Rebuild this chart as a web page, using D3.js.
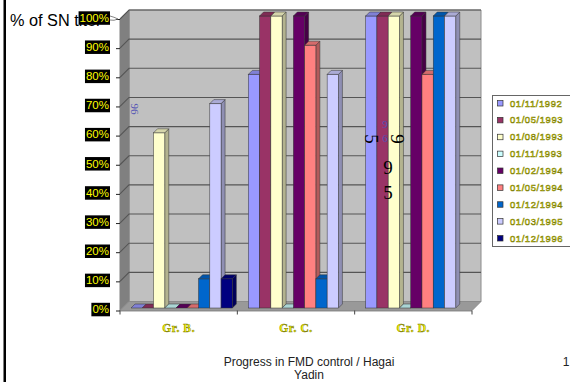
<!DOCTYPE html>
<html>
<head>
<meta charset="utf-8">
<script src="https://cdn.jsdelivr.net/npm/d3@7"></script>
<style>
  html, body { margin: 0; padding: 0; background: #fff; overflow: hidden; }
  svg { display: block; }
  text { font-family: "Liberation Sans", Arial, sans-serif; }
</style>
</head>
<body>
<div id="chart"></div>
<script>
var groups = ['Gr. B.', 'Gr. C.', 'Gr. D.'];
var dates = ['01/11/1992', '01/05/1993', '01/08/1993', '01/11/1993', '01/02/1994',
             '01/05/1994', '01/12/1994', '01/03/1995', '01/12/1996'];
var colors = ['#9999FF', '#993366', '#FFFFCC', '#CCFFFF', '#660066',
              '#FF8080', '#0066CC', '#CCCCFF', '#000080'];

// one list per survey date, in the order of groups. null = no bar
var s19921101 = [0, 80, 100];
var s19930501 = [0, 100, 100];
var s19930801 = [60, 100, 100];
var s19931101 = [0, 0, 0];
var s19940201 = [0, 100, 100];
var s19940501 = [0, 90, 80];
var s19941201 = [10, 10, 100];
var s19950301 = [70, 80, 100];
var s19961201 = [10, null, null];
var allSeries = [s19921101, s19930501, s19930801, s19931101, s19940201,
                 s19940501, s19941201, s19950301, s19961201];

var ticks = [0, 10, 20, 30, 40, 50, 60, 70, 80, 90, 100];

var svg = d3.select('#chart').append('svg').attr('width', 570).attr('height', 382);

// SCALES. front of the box, back wall and bars sit on different planes
var depth = 9, barDepth = 4;
var yFront = d3.scaleLinear().domain([0, 100]).range([310.5, 19]);
var yBar = d3.scaleLinear().domain([0, 100]).range([308, 16]);
var x0 = d3.scaleBand().domain(groups).range([120, 472]);
var x1 = d3.scaleBand().domain(d3.range(dates.length)).range([8, x0.bandwidth() - 8]);

function poly(pts) { return 'M' + pts.map(function(p) { return p.join(','); }).join('L') + 'Z'; }

// left border of the slide
svg.append('rect').attr('x', 3.5).attr('y', 0).attr('width', 2.5).attr('height', 382).attr('fill', '#000');

svg.append('text').attr('x', 10).attr('y', 26).attr('font-size', 16.3).attr('fill', '#000').text('% of SN titer');

// WALLS
var xL = 120, xR = 472;
svg.append('path')
  .attr('d', poly([[xL + depth, yFront(100) - depth], [xR + depth, yFront(100) - depth],
                   [xR + depth, yFront(0) - depth], [xL + depth, yFront(0) - depth]]))
  .attr('fill', '#C0C0C0').attr('stroke', '#8c8c8c');
svg.append('path')
  .attr('d', poly([[xL, yFront(100)], [xL + depth, yFront(100) - depth],
                   [xL + depth, yFront(0) - depth], [xL, yFront(0)]]))
  .attr('fill', '#808080').attr('stroke', '#808080');
svg.append('path')
  .attr('d', poly([[xL, yFront(0)], [xL + depth, yFront(0) - depth],
                   [xR + depth, yFront(0) - depth], [xR, yFront(0)]]))
  .attr('fill', '#999999').attr('stroke', '#8c8c8c');

// GRIDLINES
var grid = svg.append('g').attr('fill', 'none').attr('stroke', '#555').attr('stroke-width', 1.1);
grid.selectAll('path').data(ticks.filter(function(t) { return t > 0; })).enter().append('path')
  .attr('d', function(t) {
    var y = yFront(t);
    return 'M' + xL + ',' + y + 'L' + (xL + depth) + ',' + (y - depth) + 'L' + (xR + depth) + ',' + (y - depth);
  });

// overprinted yellow text, like the original
function yellowText(sel) {
  sel.attr('fill', '#FFFF00').attr('stroke', '#7a7a10').attr('stroke-width', 0.5);
}

// AXES
var yAxis = svg.append('g').attr('transform', 'translate(120,0)')
  .call(d3.axisLeft(yFront).tickValues(ticks).tickSize(4).tickPadding(7)
    .tickFormat(function(d) { return d + '%'; }));
yAxis.select('.domain').remove();
yAxis.selectAll('line').attr('stroke', '#222');
yAxis.selectAll('text').attr('font-size', 11.5).attr('font-family', '"Liberation Sans", Arial, sans-serif')
  .attr('fill', '#FFFF00').attr('dy', '0.2em');
yAxis.selectAll('.tick').each(function() {
  var tick = d3.select(this), b = tick.select('text').node().getBBox();
  tick.insert('rect', 'text').attr('x', b.x - 1).attr('y', b.y - 0.5).attr('width', b.width + 2).attr('height', b.height + 1.5)
    .attr('fill', '#000');
});

// the little callout line off the 100% label
svg.append('path')
  .attr('d', 'M110,' + (yFront(100) - 3) + 'Q114,' + (yFront(100) - 2) + ' 118,' + yFront(100) + 'Q114,' + (yFront(100) + 2) + ' 110,' + (yFront(100) + 1))
  .attr('fill', 'none').attr('stroke', '#666').attr('stroke-width', 0.8);

var xAxis = svg.append('g').attr('transform', 'translate(0,' + yFront(0) + ')');
xAxis.append('line').attr('x1', xL).attr('x2', xR).attr('stroke', '#c8c8c8').attr('y1', 1).attr('y2', 1);
xAxis.selectAll('.t').data(groups.concat(['end'])).enter().append('line')
  .attr('class', 't')
  .attr('x1', function(d, i) { return x0.range()[0] + i * x0.bandwidth(); })
  .attr('x2', function(d, i) { return x0.range()[0] + i * x0.bandwidth(); })
  .attr('y1', 0).attr('y2', 4).attr('stroke', '#444');

svg.selectAll('.cat').data(groups).enter().append('text')
  .attr('class', 'cat')
  .attr('x', function(d) { return x0(d) + x0.bandwidth() / 2; })
  .attr('y', 332)
  .attr('text-anchor', 'middle')
  .attr('font-size', 11.5).attr('font-weight', 'bold').attr('letter-spacing', 0.6)
  .style('font-family', '"Liberation Serif", serif')
  .text(function(d) { return d; })
  .call(yellowText);

// BARS, left to right so each one hides the side of the one before
var shift = 3;
allSeries.forEach(function(vals, s) {
  var c = d3.color(colors[s]);
  var g = svg.append('g').attr('stroke', '#333').attr('stroke-width', 0.5);
  groups.forEach(function(grp, i) {
    var v = vals[i];
    if (v === null) return;
    var l = x0(grp) + x1(s) + shift, r = l + x1.bandwidth();
    var yT = yBar(v), yB = yBar(0);
    if (v > 0) {
      g.append('path').attr('d', poly([[r, yT], [r + barDepth, yT - barDepth], [r + barDepth, yB - barDepth], [r, yB]]))
        .attr('fill', c.darker(1));
      g.append('rect').attr('x', l).attr('y', yT).attr('width', r - l).attr('height', yB - yT).attr('fill', c);
    }
    g.append('path').attr('d', poly([[l, yT], [l + barDepth, yT - barDepth], [r + barDepth, yT - barDepth], [r, yT]]))
      .attr('fill', c.darker(0.5));
  });
});

// LOOSE DATA LABELS left on the slide
var blueLabels = ['96', '9', '6'];
var blackLabels = ['5', '9', '9', '5'];
var bluePos = [[135, 109, 90], [385, 124, 0], [385, 138, 0]];
var blackPos = [[372, 139, 90], [398, 139, 90], [388, 167, 0], [388, 192, 0]];
svg.selectAll('.blue').data(blueLabels).enter().append('text')
  .attr('class', 'blue')
  .attr('transform', function(d, i) { return 'translate(' + bluePos[i][0] + ',' + bluePos[i][1] + ') rotate(' + bluePos[i][2] + ')'; })
  .attr('text-anchor', 'middle').attr('dy', '0.35em')
  .attr('font-size', 11).attr('fill', '#5050b4')
  .style('font-family', '"Liberation Serif", serif')
  .text(function(d) { return d; });
svg.selectAll('.black').data(blackLabels).enter().append('text')
  .attr('class', 'black')
  .attr('transform', function(d, i) { return 'translate(' + blackPos[i][0] + ',' + blackPos[i][1] + ') rotate(' + blackPos[i][2] + ')'; })
  .attr('text-anchor', 'middle').attr('dy', '0.35em')
  .attr('font-size', 19).attr('fill', '#000')
  .style('font-family', '"Liberation Serif", serif')
  .text(function(d) { return d; });

// LEGEND
var legendY = d3.scalePoint().domain(dates).range([103, 238]);
svg.append('rect').attr('x', 492.5).attr('y', 95.5).attr('width', 90).attr('height', 151)
  .attr('fill', '#fff').attr('stroke', '#666');
var legend = svg.selectAll('.lg').data(dates).enter().append('g').attr('class', 'lg')
  .attr('transform', function(d) { return 'translate(0,' + legendY(d) + ')'; });
legend.append('rect').attr('x', 497.5).attr('y', -2.5).attr('width', 5.5).attr('height', 5.5)
  .attr('fill', function(d, i) { return colors[i]; }).attr('stroke', '#333').attr('stroke-width', 0.7);
legend.append('text').attr('x', 510).attr('y', 3.5)
  .attr('font-size', 9.5).attr('letter-spacing', 0.55)
  .text(function(d) { return d; })
  .call(yellowText);

// FOOTER
var footer = ['Progress in FMD control / Hagai', 'Yadin'];
svg.selectAll('.ft').data(footer).enter().append('text')
  .attr('class', 'ft')
  .attr('x', 309).attr('y', function(d, i) { return 366 + i * 13; })
  .attr('text-anchor', 'middle').attr('font-size', 12).attr('fill', '#222')
  .text(function(d) { return d; });
svg.append('text').attr('x', 566).attr('y', 366).attr('text-anchor', 'middle')
  .attr('font-size', 12).attr('fill', '#222').text('1');
</script>
</body>
</html>
